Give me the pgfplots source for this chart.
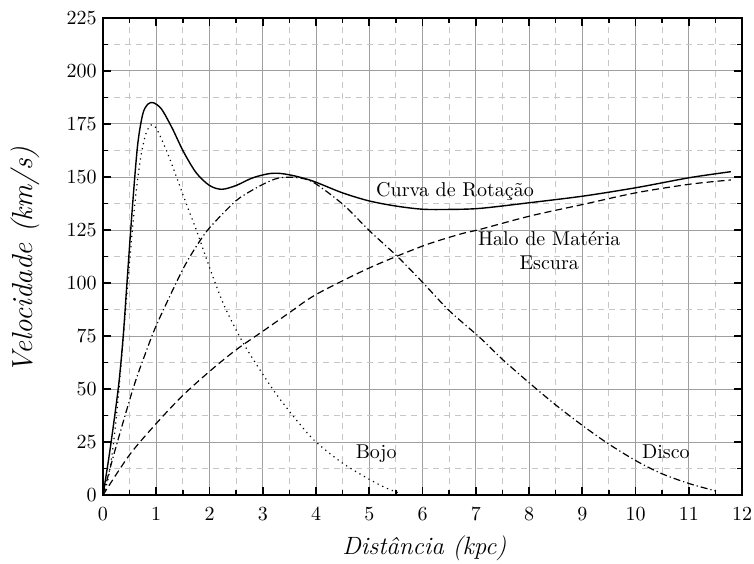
\documentclass[border=0pt]{standalone}
\usepackage{pgfplots}
\pgfplotsset{compat=1.18}
\begin{document}
\begin{tikzpicture}
\begin{axis}[
  scale only axis,
  width=319.5pt, height=238.5pt,
  xmin=0, xmax=12, ymin=0, ymax=225,
  xtick={0,1,...,12}, ytick={0,25,...,225},
  minor x tick num=1, minor y tick num=1,
  tick align=inside,
  major tick length=4pt, minor tick length=2.5pt,
  every tick/.style={black, line width=0.8pt},
  grid=both,
  major grid style={gray!75, line width=0.5pt},
  minor grid style={gray!45, dash pattern=on 3pt off 2.5pt, line width=0.5pt},
  axis line style={line width=1pt},
  tick label style={font=\fontsize{10}{12}\selectfont, inner sep=0pt},
  xticklabel style={yshift=-6pt},
  yticklabel style={xshift=-3pt},
  xlabel={\fontsize{12.5}{15}\selectfont\itshape Distância (kpc)},
  ylabel={\fontsize{14.5}{17}\selectfont\itshape Velocidade (km/s)},
  xlabel style={at={(axis description cs:0.503,-0.111)}, anchor=center, inner sep=0pt},
  ylabel style={at={(axis description cs:-0.122,0.4916)}, anchor=center, inner sep=0pt},
  clip=true,
]
% Bojo (dotted)
\addplot[black, line width=0.6pt, dotted, smooth] coordinates {
(0,0) (0.1,8) (0.2,25) (0.3,50) (0.4,80) (0.5,110) (0.6,138) (0.7,158)
(0.8,170) (0.9,174.5) (1.0,173) (1.2,162) (1.38,150) (1.6,135) (1.76,124.5)
(2.07,102.5) (2.3,88) (2.63,71.8) (3.0,57) (3.3,46) (3.7,33.3) (4.0,25)
(4.5,15) (5.0,7.4) (5.3,3.5) (5.55,1)
};
% Disco (dash-dot)
\addplot[black, line width=0.6pt, dash pattern=on 3.5pt off 1.5pt on 0.6pt off 1.5pt, smooth] coordinates {
(0,0) (0.225,21) (0.57,50.6) (0.8,67) (1.01,80.5) (1.45,104) (1.67,114)
(1.95,124.5) (2.3,134) (2.57,140.2) (3.0,146.5) (3.3,149.5) (3.64,149.7)
(3.95,147.5) (4.51,137) (5.01,124.5) (5.52,112.7) (6.01,100.1) (6.5,87)
(7.08,74.2) (7.5,64) (8.0,53) (8.5,42.5) (9.02,32.5) (9.5,24) (10.02,16)
(10.5,10) (11.02,5.3) (11.51,1.9)
};
% Halo (dashed)
\addplot[black, line width=0.6pt, dash pattern=on 3.5pt off 2pt, smooth] coordinates {
(0,0) (0.5,19) (1.01,34) (1.5,47) (2.01,58.5) (2.5,68.5) (3.01,77.4)
(3.5,86) (4.01,94.7) (5.01,107.2) (6.01,117.5) (6.7,123) (7.08,125.3)
(8.02,131.6) (9.02,137.1) (10.02,142.6) (11.02,146.6) (11.79,148.6)
};
% Curva de Rotacao (solid)
\addplot[black, line width=0.7pt, smooth] coordinates {
(0,0) (0.13,21) (0.29,51) (0.38,75) (0.45,100) (0.55,135) (0.65,165)
(0.75,180) (0.85,184.5) (0.95,185) (1.1,182) (1.3,173) (1.51,162)
(1.75,152) (2.0,146) (2.23,144.2) (2.5,146) (2.8,149.5) (3.1,151.5)
(3.32,151.7) (3.6,150.5) (3.95,148) (4.5,142.5) (5.0,138.7) (5.5,136.3)
(6.0,134.8) (6.5,134.7) (7.08,135.2) (8.02,137.9) (9.02,141) (10.02,145)
(11.02,149.7) (11.79,152.5)
};
\node[font=\fontsize{10}{12}\selectfont] at (axis cs:6.61,143) {Curva de Rotação};
\node[font=\fontsize{10}{12}\selectfont, align=center] at (axis cs:8.38,115.5) {Halo de Matéria\\Escura};
\node[font=\fontsize{10}{12}\selectfont] at (axis cs:5.13,19.5) {Bojo};
\node[font=\fontsize{10}{12}\selectfont] at (axis cs:10.57,20.4) {Disco};
\end{axis}
\path ([shift={(-51.5pt,-34pt)}]current axis.south west) rectangle ([shift={(6pt,9pt)}]current axis.north east);
\end{tikzpicture}
\end{document}
